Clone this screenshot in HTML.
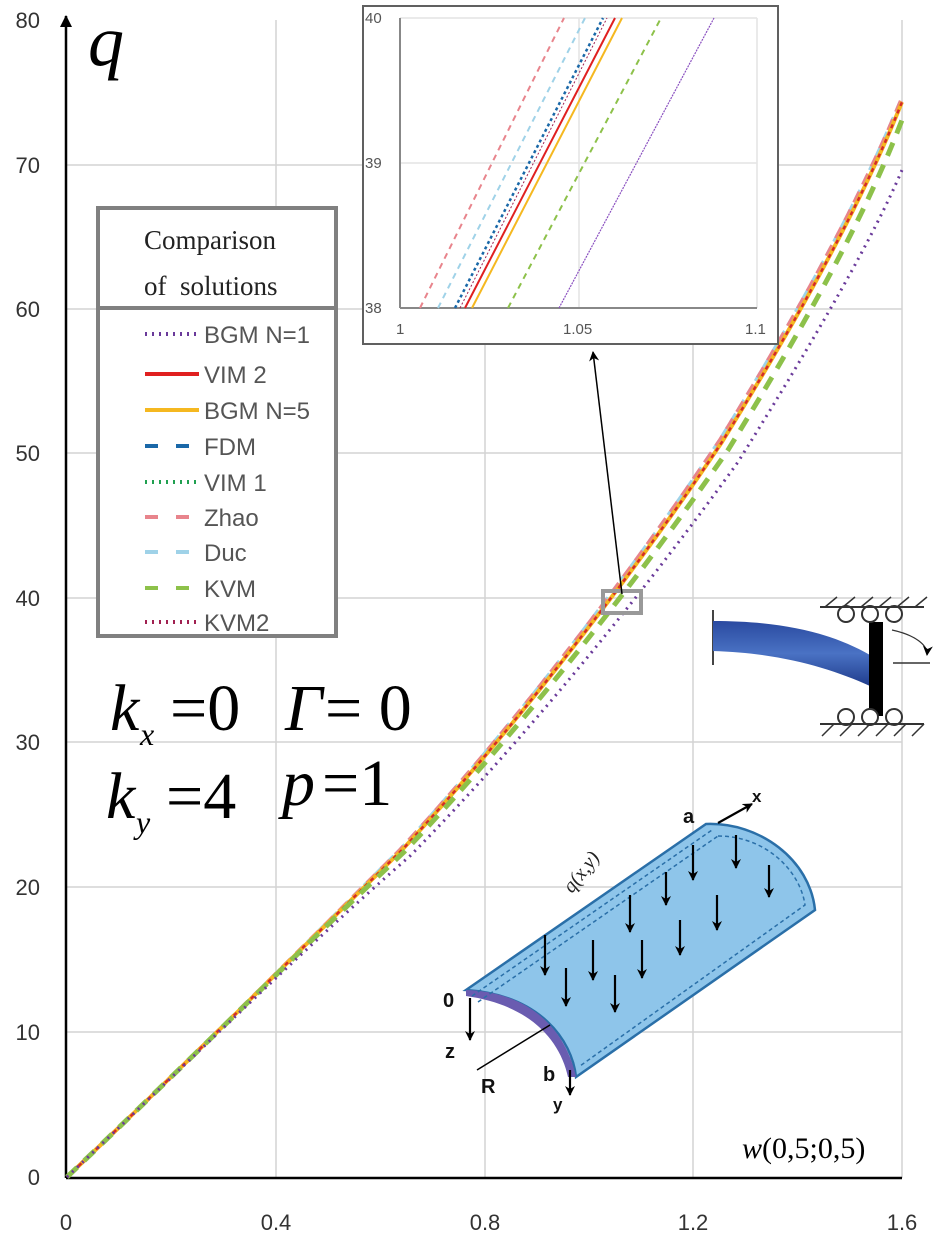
<!DOCTYPE html>
<html><head><meta charset="utf-8"><style>
html,body{margin:0;padding:0;background:#fff;}
svg{display:block;}
.t{font-family:"Liberation Sans",sans-serif;fill:#333;font-size:22px;}
.s{font-family:"Liberation Serif",serif;font-style:italic;fill:#000;}
</style></head><body>
<svg width="945" height="1238" viewBox="0 0 945 1238" xmlns="http://www.w3.org/2000/svg">
<defs>
<marker id="ah" markerUnits="userSpaceOnUse" markerWidth="12" markerHeight="12" refX="11" refY="6" orient="auto"><path d="M0,0 L12,6 L0,12 z" fill="#000"/></marker>
<marker id="as" markerUnits="userSpaceOnUse" markerWidth="10" markerHeight="10" refX="9" refY="5" orient="auto"><path d="M0,0 L10,5 L0,10 L3,5 z" fill="#000"/></marker>
<linearGradient id="bg" x1="0" y1="0" x2="0" y2="1"><stop offset="0" stop-color="#2a4aa0"/><stop offset="0.5" stop-color="#4a72c4"/><stop offset="1" stop-color="#1f3c8c"/></linearGradient>
</defs>
<g stroke="#d4d4d4" stroke-width="1.5">
<line x1="276" y1="20" x2="276" y2="1178"/><line x1="485" y1="20" x2="485" y2="1178"/>
<line x1="693" y1="20" x2="693" y2="1178"/><line x1="902" y1="20" x2="902" y2="1178"/>
<line x1="66" y1="165" x2="902" y2="165"/><line x1="66" y1="309" x2="902" y2="309"/>
<line x1="66" y1="453" x2="902" y2="453"/><line x1="66" y1="598" x2="902" y2="598"/>
<line x1="66" y1="742" x2="902" y2="742"/><line x1="66" y1="887" x2="902" y2="887"/>
<line x1="66" y1="1032" x2="902" y2="1032"/>
</g>
<line x1="66" y1="1178" x2="66" y2="16" stroke="#000" stroke-width="2.5" marker-end="url(#ah)"/>
<line x1="66" y1="1178" x2="902" y2="1178" stroke="#000" stroke-width="2.5"/>
<g class="t" text-anchor="end">
<text x="40" y="28">80</text><text x="40" y="173">70</text><text x="40" y="317">60</text>
<text x="40" y="461">50</text><text x="40" y="606">40</text><text x="40" y="750">30</text>
<text x="40" y="895">20</text><text x="40" y="1040">10</text><text x="40" y="1185">0</text>
</g>
<g class="t" text-anchor="middle">
<text x="66" y="1230">0</text><text x="276" y="1230">0.4</text><text x="485" y="1230">0.8</text>
<text x="693" y="1230">1.2</text><text x="902" y="1230">1.6</text>
</g>
<text class="s" x="88" y="65" font-size="72">q</text>
<text class="s" x="742" y="1158" font-size="30">w<tspan font-style="normal">(0,5;0,5)</tspan></text>
<g fill="none" stroke-width="4">
<path d="M67,1177 C180,1070 300,950 400,850 C520,720 640,560 720,440 C800,310 860,200 902,98" stroke="#9fd2e8" stroke-dasharray="10 6"/>
<path d="M67,1177 C180,1070 300,950 400,850 C520,720 640,560 720,440 C800,310 860,200 902,98" stroke="#e8848c" stroke-dasharray="12 8"/>
<path d="M67,1177 C180,1070 300,950 402,850 C522,720 642,562 722,442 C802,312 862,202 902,102" stroke="#f5b820"/>
<path d="M67,1177 C180,1070 300,950 402,850 C522,720 642,562 722,442 C802,312 862,202 902,102" stroke="#d42a2a" stroke-width="2.5" stroke-dasharray="4 4"/>
<path d="M67,1177 C180,1070 300,950 404,852 C526,724 648,566 728,450 C808,320 866,214 902,120" stroke="#8dc14a" stroke-width="5" stroke-dasharray="14 10"/>
<path d="M67,1177 C180,1070 300,952 410,856 C534,730 656,576 738,462 C818,334 874,236 902,170" stroke="#6a3a9a" stroke-width="3" stroke-dasharray="2 5"/>
</g>
<rect x="98" y="208" width="238" height="428" fill="#fff" stroke="#808080" stroke-width="4"/>
<line x1="98" y1="308" x2="336" y2="308" stroke="#808080" stroke-width="4"/>
<text x="144" y="249" font-family="Liberation Serif,serif" font-size="27" fill="#222">Comparison</text>
<text x="144" y="295" font-family="Liberation Serif,serif" font-size="27" fill="#222">of&#160; solutions</text>
<g stroke-width="4" fill="none">
<line x1="145" y1="334" x2="196" y2="334" stroke="#6a3a9a" stroke-dasharray="2 5"/>
<line x1="145" y1="374" x2="199" y2="374" stroke="#e02020"/>
<line x1="145" y1="410" x2="199" y2="410" stroke="#f5b820"/>
<line x1="145" y1="446" x2="196" y2="446" stroke="#1a68a8" stroke-dasharray="13 18"/>
<line x1="145" y1="482" x2="196" y2="482" stroke="#20a050" stroke-dasharray="2 5"/>
<line x1="145" y1="517" x2="196" y2="517" stroke="#e8848c" stroke-dasharray="13 18"/>
<line x1="145" y1="552" x2="196" y2="552" stroke="#9fd2e8" stroke-dasharray="13 18"/>
<line x1="145" y1="588" x2="196" y2="588" stroke="#8dc14a" stroke-dasharray="13 18"/>
<line x1="145" y1="622" x2="196" y2="622" stroke="#a02050" stroke-dasharray="2 5"/>
</g>
<g font-family="Liberation Sans,sans-serif" font-size="24" fill="#555">
<text x="204" y="343">BGM N=1</text><text x="204" y="383">VIM 2</text><text x="204" y="419">BGM N=5</text>
<text x="204" y="455">FDM</text><text x="204" y="491">VIM 1</text><text x="204" y="526">Zhao</text>
<text x="204" y="561">Duc</text><text x="204" y="597">KVM</text><text x="204" y="631">KVM2</text>
</g>
<g class="s" font-size="66">
<text x="110" y="730">k</text><text x="140" y="745" font-size="32">x</text>
<text x="170" y="730" font-style="normal">=0</text>
<text x="285" y="730">Γ</text><text x="325" y="730" font-style="normal">= 0</text>
<text x="106" y="818">k</text><text x="136" y="833" font-size="32">y</text>
<text x="166" y="818" font-style="normal">=4</text>
<text x="282" y="805">p</text><text x="322" y="805" font-style="normal">=1</text>
</g>
<rect x="603" y="591" width="38" height="22" fill="none" stroke="#999" stroke-width="4"/>
<line x1="622" y1="594" x2="593" y2="352" stroke="#000" stroke-width="1.5" marker-end="url(#as)"/>
<rect x="363" y="6" width="415" height="338" fill="#fff" stroke="#606060" stroke-width="2"/>
<g stroke="#e4e4e4" stroke-width="1.5"><line x1="579" y1="18" x2="579" y2="308"/><line x1="757" y1="18" x2="757" y2="308"/><line x1="400" y1="163" x2="757" y2="163"/><line x1="400" y1="18" x2="757" y2="18"/></g>
<line x1="400" y1="18" x2="400" y2="308" stroke="#888" stroke-width="2"/>
<line x1="400" y1="308" x2="757" y2="308" stroke="#888" stroke-width="2"/>
<g font-family="Liberation Sans,sans-serif" font-size="15" fill="#555">
<text x="365" y="23">40</text><text x="365" y="168">39</text><text x="365" y="313">38</text>
<text x="396" y="334">1</text><text x="563" y="334">1.05</text><text x="745" y="334">1.1</text>
</g>
<g fill="none" stroke-width="2">
<line x1="420" y1="308" x2="564" y2="18" stroke="#e8848c" stroke-dasharray="6 5"/>
<line x1="438" y1="308" x2="585" y2="18" stroke="#9fd2e8" stroke-dasharray="6 5"/>
<line x1="455" y1="308" x2="603" y2="18" stroke="#1a68a8" stroke-width="2.5" stroke-dasharray="3 3"/>
<line x1="460" y1="308" x2="607" y2="18" stroke="#a02050" stroke-width="1" stroke-dasharray="2 2"/>
<line x1="465" y1="308" x2="615" y2="18" stroke="#e02020"/>
<line x1="472" y1="308" x2="622" y2="18" stroke="#f5b820"/>
<line x1="508" y1="308" x2="661" y2="18" stroke="#8dc14a" stroke-dasharray="6 5"/>
<line x1="559" y1="308" x2="714" y2="18" stroke="#8a50c0" stroke-width="1.2" stroke-dasharray="2 1"/>
</g>
<g>
<line x1="713" y1="610" x2="713" y2="665" stroke="#444" stroke-width="2"/>
<path d="M713,621 C780,621 830,632 870,655 L870,686 C830,668 780,653 713,651 Z" fill="url(#bg)"/>
<rect x="869" y="622" width="14" height="94" fill="#000"/>
<g fill="#fff" stroke="#333" stroke-width="2"><circle cx="846" cy="614" r="8"/><circle cx="870" cy="614" r="8"/><circle cx="894" cy="614" r="8"/><circle cx="846" cy="717" r="8"/><circle cx="870" cy="717" r="8"/><circle cx="894" cy="717" r="8"/></g>
<line x1="820" y1="607" x2="924" y2="607" stroke="#333" stroke-width="2"/>
<line x1="820" y1="724" x2="924" y2="724" stroke="#333" stroke-width="2"/>
<g stroke="#333" stroke-width="1.5"><path d="M825,607 l12,-10 M843,607 l12,-10 M861,607 l12,-10 M879,607 l12,-10 M897,607 l12,-10 M915,607 l12,-10 M822,736 l12,-12 M840,736 l12,-12 M858,736 l12,-12 M876,736 l12,-12 M894,736 l12,-12 M912,736 l12,-12"/></g>
<path d="M892,630 C915,635 928,645 927,655" fill="none" stroke="#333" stroke-width="1.2" marker-end="url(#as)"/>
<line x1="893" y1="663" x2="930" y2="663" stroke="#333" stroke-width="1.5"/>
</g>
<g>
<path d="M466,990 L706,824 C760,822 810,860 815,910 L576,1077 C572,1040 540,995 466,990 Z" fill="#8ec5ea" stroke="#2a6fa8" stroke-width="2.5"/>
<path d="M466,990 C530,992 566,1030 576,1077 L568,1077 C560,1040 530,1005 466,996 Z" fill="#6a5cb0"/>
<path d="M472,996 L712,830 M478,1002 L718,836" stroke="#2a6fa8" stroke-width="1.5" stroke-dasharray="4 3" fill="none"/>
<path d="M718,836 C765,836 800,870 805,905 L580,1066" stroke="#2a6fa8" stroke-width="1.5" stroke-dasharray="4 3" fill="none"/>
<g stroke="#000" stroke-width="2.2" marker-end="url(#as)">
<line x1="545" y1="935" x2="545" y2="975"/><line x1="593" y1="940" x2="593" y2="980"/><line x1="566" y1="968" x2="566" y2="1006"/><line x1="615" y1="975" x2="615" y2="1012"/>
<line x1="630" y1="895" x2="630" y2="932"/><line x1="642" y1="940" x2="642" y2="978"/><line x1="680" y1="920" x2="680" y2="955"/>
<line x1="666" y1="872" x2="666" y2="905"/><line x1="693" y1="845" x2="693" y2="880"/><line x1="717" y1="895" x2="717" y2="930"/>
<line x1="736" y1="835" x2="736" y2="868"/><line x1="769" y1="865" x2="769" y2="897"/>
<line x1="470" y1="998" x2="470" y2="1040"/><line x1="570" y1="1070" x2="570" y2="1095"/>
<line x1="718" y1="823" x2="752" y2="804"/>
</g>
<line x1="477" y1="1070" x2="550" y2="1025" stroke="#000" stroke-width="1.5"/>
<g font-family="Liberation Sans,sans-serif" font-weight="bold" font-size="20" fill="#111">
<text x="683" y="823">a</text><text x="752" y="802" font-size="17">x</text>
<text x="443" y="1007">0</text><text x="445" y="1058">z</text><text x="481" y="1093">R</text>
<text x="543" y="1081">b</text><text x="553" y="1110" font-size="17">y</text>
</g>
<text x="0" y="0" transform="translate(572,894) rotate(-52)" font-family="Liberation Serif,serif" font-style="italic" font-size="20" fill="#222">q(x,y)</text>
</g>
</svg>
</body></html>
